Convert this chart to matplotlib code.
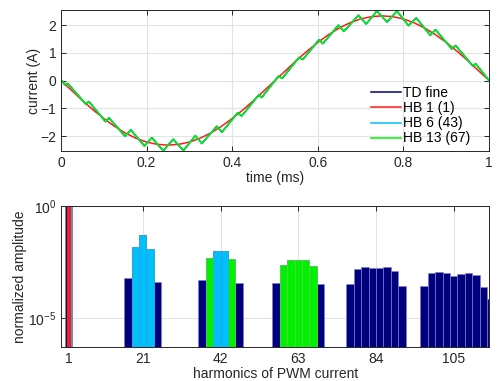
import numpy as np
import matplotlib
matplotlib.use("Agg")
from matplotlib import pyplot as plt
from matplotlib.ticker import FixedLocator, NullLocator

plt.rcParams['font.family'] = ['Liberation Sans', 'DejaVu Sans']
plt.rcParams['font.size'] = 10
plt.rcParams['mathtext.fontset'] = 'custom'
plt.rcParams['mathtext.rm'] = 'Liberation Sans'

# --- time domain: current over one fundamental period ---
t_ripple = [0.000, 0.009, 0.016, 0.058, 0.065, 0.104, 0.112, 0.150, 0.163,
            0.195, 0.212, 0.239, 0.262, 0.286, 0.314, 0.329, 0.364, 0.376,
            0.413, 0.422, 0.462, 0.469, 0.508, 0.517, 0.556, 0.565, 0.603,
            0.612, 0.648, 0.661, 0.695, 0.713, 0.738, 0.762, 0.785, 0.812,
            0.830, 0.863, 0.875, 0.913, 0.922, 0.962, 0.969, 1.000]
i_ripple = [0.02, -0.15, -0.11, -0.85, -0.76, -1.48, -1.35, -2.01, -1.78,
            -2.36, -2.06, -2.53, -2.12, -2.52, -1.99, -2.27, -1.65, -1.86,
            -1.16, -1.28, -0.52, -0.61, 0.15, 0.08, 0.83, 0.76, 1.47,
            1.33, 1.99, 1.77, 2.35, 2.04, 2.50, 2.11, 2.50, 1.98,
            2.25, 1.63, 1.83, 1.14, 1.26, 0.53, 0.60, 0.00]

t_hb1 = [0.000, 0.025, 0.050, 0.075, 0.100, 0.125, 0.150, 0.175, 0.200, 0.225,
         0.250, 0.275, 0.300, 0.325, 0.350, 0.375, 0.400, 0.425, 0.450, 0.475,
         0.500, 0.525, 0.550, 0.575, 0.600, 0.625, 0.650, 0.675, 0.700, 0.725,
         0.750, 0.775, 0.800, 0.825, 0.850, 0.875, 0.900, 0.925, 0.950, 0.975,
         1.000]
i_hb1 = [0.00, -0.36, -0.72, -1.06, -1.37, -1.65, -1.89, -2.08, -2.22, -2.30,
         -2.33, -2.30, -2.22, -2.08, -1.89, -1.65, -1.37, -1.06, -0.72, -0.36,
         0.00, 0.36, 0.72, 1.06, 1.37, 1.65, 1.89, 2.08, 2.22, 2.30,
         2.33, 2.30, 2.22, 2.08, 1.89, 1.65, 1.37, 1.06, 0.72, 0.36,
         0.00]

# --- harmonic spectrum (normalized amplitude) ---
harm_td = [1, 17, 19, 21, 23, 25, 37, 39, 41, 43, 45, 47,
           57, 59, 61, 63, 65, 67, 69, 77, 79, 81, 83, 85, 87, 89, 91,
           97, 99, 101, 103, 105, 107, 109, 111, 113, 115]
amp_td = [1.0, 6.0e-4, 1.5e-2, 5.1e-2, 1.2e-2, 4.0e-4,
          5.1e-4, 4.9e-3, 1.0e-2, 1.0e-2, 4.3e-3, 3.6e-4,
          3.7e-4, 2.3e-3, 4.0e-3, 3.7e-3, 3.7e-3, 2.1e-3, 3.2e-4,
          3.3e-4, 1.5e-3, 1.95e-3, 1.75e-3, 1.75e-3, 1.85e-3, 1.3e-3, 2.7e-4,
          2.7e-4, 1.0e-3, 1.15e-3, 1.0e-3, 7.6e-4, 9.3e-4, 1.05e-3, 8.7e-4,
          2.3e-4, 7.2e-5]

harm_hb13 = [1, 19, 21, 23, 39, 41, 43, 45, 59, 61, 63, 65, 67]
amp_hb13 = [1.0, 1.5e-2, 5.1e-2, 1.2e-2, 4.9e-3, 1.0e-2, 1.0e-2, 4.3e-3,
            2.3e-3, 4.0e-3, 3.7e-3, 3.7e-3, 2.1e-3]

harm_hb6 = [1, 19, 21, 23, 41, 43]
amp_hb6 = [1.0, 1.5e-2, 5.1e-2, 1.2e-2, 1.0e-2, 1.0e-2]

harm_hb1 = [1]
amp_hb1 = [1.0]

xticks_harm = [1, 21, 42, 63, 84, 105]

c_td = '#00007f'
c_hb1 = '#ff1a1a'
c_hb6 = '#00bfff'
c_hb13 = '#00f000'
c_text = '#262626'

fig = plt.figure(figsize=(5.0, 3.81), dpi=100)
ax1 = fig.add_axes([0.122, 0.6037, 0.856, 0.370])
ax2 = fig.add_axes([0.1226, 0.0892, 0.856, 0.370])

for ax in (ax1, ax2):
    ax.set_axisbelow(True)
    ax.grid(True, color='#e3e3e3', lw=0.8)
    ax.tick_params(direction='in', top=True, right=True, length=3.5,
                   width=0.7, colors=c_text, labelsize=10)
    for s in ax.spines.values():
        s.set_color(c_text)
        s.set_linewidth(0.7)

# top: time domain
ax1.plot(t_ripple, i_ripple, color=c_td, lw=1.1, label='TD fine')
ax1.plot(t_hb1, i_hb1, color=c_hb1, lw=1.1, label='HB 1 (1)')
ax1.plot(t_ripple, i_ripple, color=c_hb6, lw=1.1, label='HB 6 (43)')
ax1.plot(t_ripple, i_ripple, color=c_hb13, lw=1.1, label='HB 13 (67)')
ax1.set_xlim(0, 1)
ax1.set_ylim(-2.54, 2.54)
ax1.set_xticks([0, 0.2, 0.4, 0.6, 0.8, 1])
ax1.set_xticklabels(['0', '0.2', '0.4', '0.6', '0.8', '1'])
ax1.set_yticks([-2, -1, 0, 1, 2])
ax1.set_xlabel('time (ms)', color=c_text, labelpad=1)
ax1.set_ylabel('current (A)', color=c_text)
ax1.yaxis.set_label_coords(-0.046, 0.5)
ax1.legend(loc='lower right', bbox_to_anchor=(0.975, -0.02), frameon=False,
           handlelength=2.1, handletextpad=0.15, labelspacing=0.08,
           borderaxespad=0.2, fontsize=10)

# bottom: spectrum (fundamental of the HB spectra drawn narrow, red on top)
bot = 1e-9


def widths(harms):
    return [1.0 if h == 1 else 2.0 for h in harms]


ax2.bar(harm_td, amp_td, width=2, bottom=bot, color=c_td,
        edgecolor='#7f7fc8', lw=0.5)
ax2.bar(harm_hb13, amp_hb13, width=widths(harm_hb13), bottom=bot,
        color=c_hb13, edgecolor='#5fd05f', lw=0.5)
ax2.bar(harm_hb6, amp_hb6, width=widths(harm_hb6), bottom=bot,
        color=c_hb6, edgecolor='#3a9ad0', lw=0.5)
ax2.bar(harm_hb1, amp_hb1, width=widths(harm_hb1), bottom=bot,
        color=c_hb1, lw=0)
ax2.set_yscale('log')
ax2.set_ylim(5e-7, 1)
ax2.set_xlim(-1, 114.6)
ax2.yaxis.set_major_locator(FixedLocator([1e-5, 1e0]))
ax2.yaxis.set_minor_locator(NullLocator())
ax2.set_yticklabels(['$10^{-5}$', '$10^{0}$'])
ax2.set_xticks(xticks_harm)
ax2.set_xlabel('harmonics of PWM current', color=c_text, labelpad=1)
ax2.set_ylabel('normalized amplitude', color=c_text)
ax2.yaxis.set_label_coords(-0.079, 0.5)

fig.savefig('out.png', dpi=100)
